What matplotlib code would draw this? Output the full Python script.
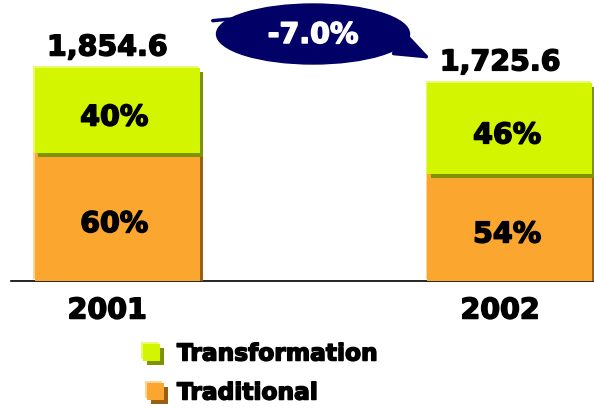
import matplotlib.pyplot as plt
import matplotlib.patheffects as pe
from matplotlib.patches import Ellipse, Rectangle, FancyArrowPatch

years = ["2001", "2002"]
totals = [1854.6, 1725.6]
transformation_pct = [40, 46]
traditional_pct = [60, 54]
change_label = "-7.0%"
series_names = ["Transformation", "Traditional"]

green, green_dark, green_light = "#D4F500", "#7E9300", "#E8FB70"
orange, orange_dark, orange_light = "#FBA72F", "#9A5E14", "#FFD49A"
navy = "#000066"

W, H = 594, 410
fig = plt.figure(figsize=(W / 100, H / 100), dpi=100)
ax = fig.add_axes([11 / W, 128 / H, 1 - 11 / W, 282 / H])
ax.set_xlim(-0.27, 1.214)
ax.set_ylim(0, 282 / (213 / totals[0]))
ax.axis("off")


def px(x, y):
    # pixel position (from top-left) -> figure fraction
    return x / W, 1 - y / H


def fx(lo, hi):
    return [pe.SimplePatchShadow(offset=(-1.2, 1.2), shadow_rgbFace=hi, alpha=1),
            pe.SimplePatchShadow(offset=(2.8, -2.8), shadow_rgbFace=lo, alpha=1),
            pe.Normal()]


def heavy(c):
    return [pe.withStroke(linewidth=1.1, foreground=c)]


x = range(len(years))
trad = [t * p / 100 for t, p in zip(totals, traditional_pct)]
trans = [t * p / 100 for t, p in zip(totals, transformation_pct)]
w = 165 / 393

b1 = ax.bar(x, trad, width=w, color=orange, linewidth=0)
for b in b1:
    b.set_path_effects(fx(orange_dark, orange_light))
b2 = ax.bar(x, trans, bottom=trad, width=w, color=green, linewidth=0)
for b in b2:
    b.set_path_effects(fx(green_dark, green_light))

ax.axhline(0, color="black", lw=1.2, zorder=0, clip_on=False)

font = dict(fontweight="bold", fontsize=20.5, family="DejaVu Sans")
for i in x:
    ax.annotate(f"{totals[i]:,.1f}", (i, totals[i]), xytext=(-7, 9),
                textcoords="offset points", ha="center", va="baseline",
                path_effects=heavy("black"), **font)
    ax.annotate(years[i], (i, 0), xytext=(-7, -27), textcoords="offset points",
                ha="center", va="baseline", path_effects=heavy("black"), **font)
    ax.annotate(f"{transformation_pct[i]}%", (i, trad[i] + trans[i] / 2),
                xytext=(-2, -5), textcoords="offset points",
                ha="center", va="center", path_effects=heavy("black"), **font)
    ax.annotate(f"{traditional_pct[i]}%", (i, trad[i] / 2),
                xytext=(-2, -5), textcoords="offset points",
                ha="center", va="center", path_effects=heavy("black"), **font)

# change bubble with arrow
arrow = FancyArrowPatch(px(210, 22), px(433, 61), transform=fig.transFigure,
                        connectionstyle="arc3,rad=-0.15",
                        arrowstyle="-|>,head_length=1.1,head_width=0.42",
                        mutation_scale=20, color=navy, lw=2.5)
fig.patches.append(arrow)
ell = Ellipse(px(313, 35), 193 / W, 60 / H, transform=fig.transFigure,
              color=navy)
fig.patches.append(ell)
fig.text(*px(313, 36), change_label, color="white", ha="center", va="center",
         path_effects=heavy("white"), **font)

# legend
for (lx, ly), name, c, lo, hi in [((143, 345), series_names[0], green, green_dark, green_light),
                                  ((147, 384), series_names[1], orange, orange_dark, orange_light)]:
    r = Rectangle(px(lx, ly + 17), 17 / W, 17 / H, transform=fig.transFigure,
                  color=c, lw=0)
    r.set_path_effects(fx(lo, hi))
    fig.patches.append(r)
    fig.text(*px(177, ly + 10), name, ha="left", va="center",
             fontweight="bold", fontsize=16.8, family="DejaVu Sans",
             path_effects=heavy("black"))

fig.savefig("out.png", dpi=100)
